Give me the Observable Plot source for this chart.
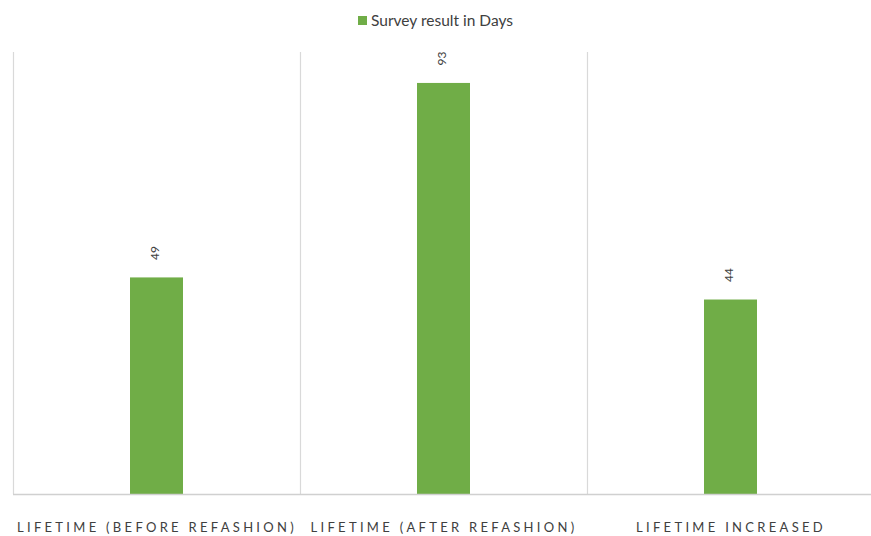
<!DOCTYPE html>
<html>
<head>
<meta charset="utf-8">
<script src="https://cdn.jsdelivr.net/npm/d3@7"></script>
<script src="https://cdn.jsdelivr.net/npm/@observablehq/plot@0.6"></script>
<style>
  body { margin: 0; background: #ffffff; font-family: Lato, "Open Sans", sans-serif; }
  #legend { height: 40px; display: flex; align-items: center; justify-content: center; font-size: 15.5px; color: #404040; }
  #legend .sw { display: inline-block; width: 9px; height: 9px; background: #70ad47; margin-right: 4px; }
  g[aria-label="x-axis tick label"] text { letter-spacing: 3.3px; }
</style>
</head>
<body>
<div id="legend"><span class="sw"></span><span class="t">Survey result in Days</span></div>
<div id="chart"></div>
<script>
const categories = ["LIFETIME (BEFORE REFASHION)", "LIFETIME (AFTER REFASHION)", "LIFETIME INCREASED"];
const values = [49, 93, 44];
const seriesName = "Survey result in Days";

const data = categories.map((c, i) => ({category: c, value: values[i]}));

const W = 871, H = 496;
const xRange = [13, 874];
const step = (xRange[1] - xRange[0]) / categories.length;
const barWidth = 53;
const inset = (step - barWidth) / 2;

const chart = Plot.plot({
  width: W,
  height: H,
  marginTop: 12,
  marginBottom: 42,
  marginLeft: 13,
  marginRight: 0,
  style: {background: "transparent", fontFamily: "Lato, 'Open Sans', sans-serif"},
  x: {domain: categories, range: xRange, padding: 0, label: null},
  y: {domain: [0, 100], axis: null},
  marks: [
    Plot.ruleX(categories, {x: d => d, dx: -step / 2, stroke: "#d9d9d9", strokeWidth: 1.2}),
    Plot.barY(data, {x: "category", y: "value", fill: "#70ad47", insetLeft: inset, insetRight: inset}),
    Plot.ruleY([0], {stroke: "#d0d0d0", strokeWidth: 1.5}),
    Plot.text(data, {x: "category", y: "value", text: d => String(d.value), rotate: -90, textAnchor: "start", lineAnchor: "middle", dy: -18, dx: -2, fontSize: 12, fill: "#404040"}),
    Plot.axisX({tickSize: 0, tickPadding: 28, fontSize: 13, fill: "#404040", label: null, tickFormat: d => d, dx: 0})
  ]
});
document.getElementById("chart").appendChild(chart);
</script>
</body>
</html>
